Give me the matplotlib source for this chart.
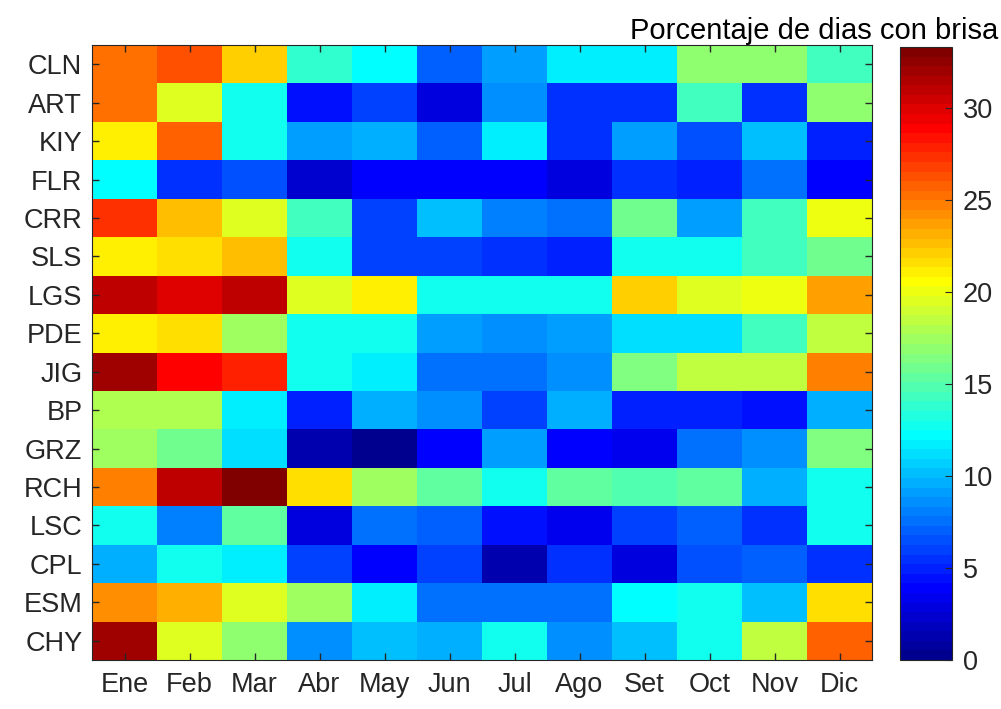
import numpy as np
import matplotlib
matplotlib.use("Agg")
import matplotlib.pyplot as plt
from matplotlib.colors import ListedColormap

stations = ["CLN", "ART", "KIY", "FLR", "CRR", "SLS", "LGS", "PDE",
            "JIG", "BP", "GRZ", "RCH", "LSC", "CPL", "ESM", "CHY"]
months = ["Ene", "Feb", "Mar", "Abr", "May", "Jun", "Jul", "Ago",
          "Set", "Oct", "Nov", "Dic"]

CLN = [25.0, 26.5, 22.0, 13.8, 12.0, 7.2, 9.0, 11.5, 11.5, 17.0, 17.0, 14.5]
ART = [25.0, 19.3, 12.8, 4.3, 6.1, 3.0, 8.6, 5.6, 5.6, 14.2, 5.6, 16.8]
KIY = [20.9, 25.5, 12.8, 9.3, 9.7, 7.2, 11.8, 5.6, 9.1, 6.5, 10.1, 4.8]
FLR = [12.2, 5.5, 6.5, 2.6, 3.8, 3.8, 3.9, 3.0, 5.5, 5.2, 7.8, 3.9]
CRR = [27.2, 22.6, 19.3, 14.2, 5.8, 10.0, 8.1, 7.4, 15.8, 9.1, 14.2, 19.9]
SLS = [20.9, 21.6, 22.5, 12.5, 5.8, 6.1, 5.5, 5.2, 12.7, 12.7, 14.2, 15.8]
LGS = [30.9, 30.1, 31.2, 19.3, 20.9, 12.7, 12.7, 12.5, 22.0, 19.3, 19.8, 23.7]
PDE = [20.9, 21.4, 17.2, 13.0, 12.7, 9.1, 8.7, 9.1, 11.2, 11.2, 14.2, 18.7]
JIG = [31.9, 29.1, 27.8, 13.0, 11.5, 7.8, 7.8, 8.7, 16.4, 18.7, 18.7, 24.6]
BP = [17.7, 17.7, 11.5, 4.8, 9.4, 8.8, 5.8, 9.4, 5.2, 5.2, 4.5, 9.7]
GRZ = [17.2, 15.8, 11.2, 1.3, 0.5, 4.0, 9.1, 4.0, 3.3, 7.4, 8.5, 16.4]
RCH = [24.6, 30.9, 33.2, 21.6, 17.4, 15.1, 12.7, 15.1, 14.8, 15.4, 9.7, 12.7]
LSC = [13.0, 8.1, 15.4, 2.7, 7.4, 6.8, 4.4, 3.5, 5.8, 7.1, 5.5, 12.7]
CPL = [9.7, 12.5, 11.5, 6.1, 3.7, 5.8, 1.4, 5.5, 3.0, 6.5, 6.8, 5.5]
ESM = [24.2, 23.3, 19.4, 17.4, 11.8, 7.4, 7.8, 7.4, 12.0, 12.7, 10.1, 21.4]
CHY = [32.2, 19.3, 16.9, 8.8, 10.1, 9.7, 12.7, 8.8, 10.1, 12.5, 18.7, 25.5]

data = np.array([CLN, ART, KIY, FLR, CRR, SLS, LGS, PDE,
                 JIG, BP, GRZ, RCH, LSC, CPL, ESM, CHY])


def matlab_jet(m=64):
    n = int(np.ceil(m / 4))
    u = np.concatenate([np.arange(1, n + 1) / n, np.ones(n - 1),
                        np.arange(n, 0, -1) / n])
    g = int(np.ceil(n / 2)) - (1 if m % 4 == 1 else 0) + np.arange(1, len(u) + 1)
    r = g + n
    b = g - n
    J = np.zeros((m, 3))
    for col, idx in ((0, r), (1, g), (2, b)):
        ok = (idx >= 1) & (idx <= m)
        J[idx[ok] - 1, col] = u[ok]
    return ListedColormap(J)


txt = (0.15, 0.15, 0.15)
plt.rcParams['font.family'] = ['Liberation Sans', 'DejaVu Sans']

fig = plt.figure(figsize=(10.01, 7.09), dpi=100)
ax = fig.add_axes([92/1001, 1 - 660/709, 780/1001, 615/709])
cmap = matlab_jet(64)
vmax = 33.3
mesh = ax.pcolormesh(np.arange(len(months) + 1) - 0.5,
                     np.arange(len(stations) + 1) - 0.5,
                     data, cmap=cmap, vmin=0, vmax=vmax)
ax.set_xlim(-0.5, len(months) - 0.5)
ax.set_ylim(len(stations) - 0.5, -0.5)
ax.set_xticks(np.arange(len(months)))
ax.set_xticklabels(months)
ax.set_yticks(np.arange(len(stations)))
ax.set_yticklabels(stations)
ax.tick_params(direction='in', top=True, right=True, length=5, width=1,
               labelsize=19.5, colors=txt, pad=7)
ax.tick_params(axis='x', pad=9)
for s in ax.spines.values():
    s.set_color(txt)
    s.set_linewidth(0.8)

cax = fig.add_axes([900/1001, 1 - 660/709, 52/1001, 613/709])
cb = fig.colorbar(mesh, cax=cax)
cb.set_ticks([0, 5, 10, 15, 20, 25, 30])
cb.ax.tick_params(direction='in', length=5, labelsize=19.5, colors=txt, pad=8)
cb.outline.set_edgecolor(txt)
cb.outline.set_linewidth(0.8)
fig.text(0.997, 1 - 31/709, "Porcentaje de dias con brisa", ha='right',
         va='center', fontsize=21, color='black')

fig.savefig("out.png", dpi=100)
